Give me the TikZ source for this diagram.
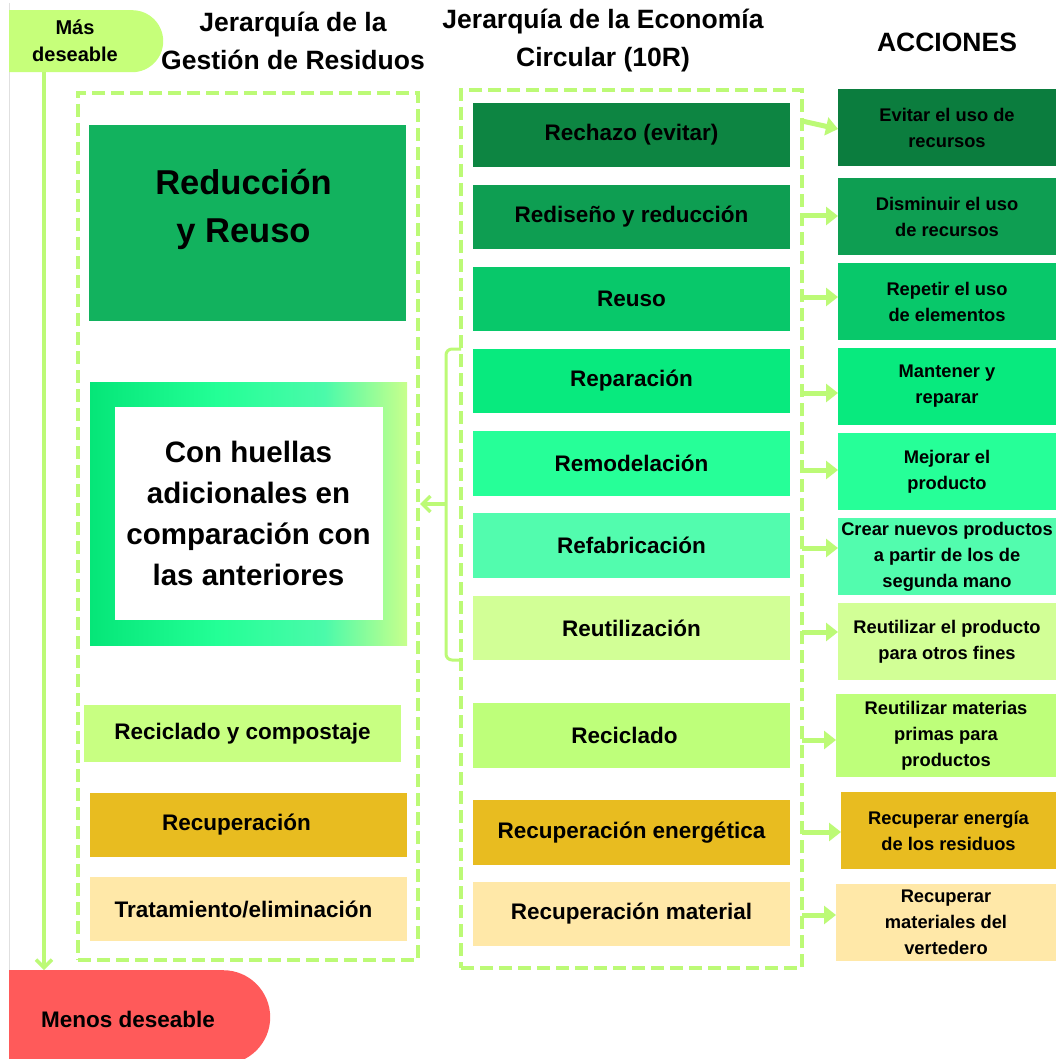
\documentclass[tikz,border=0pt]{standalone}
\usepackage{fontspec}
\setmainfont{Liberation Sans}
\usetikzlibrary{arrows.meta,shapes.misc}
\definecolor{lg}{RGB}{188,250,118}
\definecolor{cMas}{RGB}{198,255,122}
\definecolor{cMenos}{RGB}{255,90,90}
\definecolor{cRR}{RGB}{18,178,94}
\definecolor{cRyC}{RGB}{200,255,130}
\definecolor{cRE}{RGB}{232,188,32}
\definecolor{cRM}{RGB}{255,232,168}
\definecolor{cM1}{RGB}{13,133,66}
\definecolor{cM2}{RGB}{14,158,82}
\definecolor{cM3}{RGB}{8,200,106}
\definecolor{cM4}{RGB}{8,234,126}
\definecolor{cM5}{RGB}{38,255,152}
\definecolor{cM6}{RGB}{82,252,174}
\definecolor{cM7}{RGB}{210,255,150}
\definecolor{cM8}{RGB}{190,255,122}
\definecolor{cA1}{RGB}{11,125,62}
\definecolor{gA}{RGB}{5,230,120}
\definecolor{gB}{RGB}{35,255,150}
\definecolor{gC}{RGB}{75,250,170}
\definecolor{gD}{RGB}{200,255,140}
\pgfdeclarehorizontalshading{gframe}{100bp}{color(0bp)=(gA); color(25bp)=(gA); color(45bp)=(gB); color(62bp)=(gC); color(75bp)=(gD); color(100bp)=(gD)}
\begin{document}
\begin{tikzpicture}[x=1pt,y=-1pt,
  box/.style={inner sep=0pt, outer sep=0pt, anchor=north west, align=center, text=black, font=\bfseries\fontsize{22.5}{26}\selectfont},
  abox/.style={box, font=\bfseries\fontsize{18.3}{26}\selectfont},
  frame/.style={draw=lg, line width=3.5pt, dash pattern=on 13pt off 6pt, anchor=north west, inner sep=0pt, outer sep=0pt},
  tiparr/.style={draw=lg, line width=5pt, -{Triangle[length=12pt,width=18pt]}},
  openarr/.style={draw=lg, line width=3.5pt, -{Straight Barb[length=8pt,width=16pt]}},
  ttl/.style={align=center, inner sep=0pt, font=\bfseries\fontsize{26.5}{38}\selectfont}
]
\useasboundingbox (0,0) rectangle (1056,1059);
\fill[white] (0,0) rectangle (1056,1059);
\draw[black!12, line width=1pt] (9,3) -- (9,1059);

% titles
\node[ttl] (t1) at (293,41) {Jerarquía de la\\Gestión de Residuos};
\node[ttl] (t2) at (603,41) {Jerarquía de la Economía\\Circular (10R)};
\node[ttl] (t3) at (947,42) {ACCIONES};

% pills
\node[rounded rectangle, rounded rectangle west arc=none, fill=cMas, minimum width=154, minimum height=62, inner sep=0pt, anchor=north west] (mas) at (9,10) {};
\node[align=center, inner sep=0pt, font=\bfseries\fontsize{20}{27}\selectfont] (mastxt) at (75,41) {Más\\deseable};
\node[rounded rectangle, rounded rectangle west arc=none, fill=cMenos, minimum width=261, minimum height=94, inner sep=0pt, anchor=north west] (menos) at (9,970) {};
\node[inner sep=0pt, font=\bfseries\fontsize{22.5}{26}\selectfont] (menostxt) at (128,1019) {Menos deseable};
\coordinate (ax) at (44,0);
\draw[openarr] (mas.south -| ax) -- (menos.north -| ax);

% frames
\node[frame, minimum width=340, minimum height=867] (lframe) at (78,93) {};
\node[frame, minimum width=341, minimum height=878] (mframe) at (461,90) {};

% left column
\node[box, fill=cRR, minimum width=317, minimum height=196] (redu) at (89,125) {};
\node[inner sep=0pt, align=center, font=\bfseries\fontsize{34.5}{48}\selectfont] (redutxt) at ([xshift=-4pt,yshift=14pt]redu.center) {Reducción\\y Reuso};
\node[box, shading=gframe, minimum width=317, minimum height=263] (grad) at (90,382) {};
\node[fill=white, inner sep=0pt, minimum width=268, minimum height=213, align=center, font=\bfseries\fontsize{29.5}{41}\selectfont] (huellas) at (grad.center) {Con huellas\\adicionales en\\comparación con\\las anteriores};
\node[box, fill=cRyC, minimum width=317, minimum height=57] (recic) at (84,705) {Reciclado y compostaje};
\node[box, fill=cRE, minimum width=317, minimum height=64] (recup) at (90,793) {\hspace*{-24pt}Recuperación};
\node[box, fill=cRM, minimum width=317, minimum height=64] (trat) at (90,877) {\hspace*{-10pt}Tratamiento/eliminación};

% middle column
\node[box, fill=cM1, minimum width=317, minimum height=64] (m1) at (473,103) {Rechazo (evitar)};
\node[box, fill=cM2, minimum width=317, minimum height=64] (m2) at (473,185) {Rediseño y reducción};
\node[box, fill=cM3, minimum width=317, minimum height=64] (m3) at (473,267) {Reuso};
\node[box, fill=cM4, minimum width=317, minimum height=64] (m4) at (473,349) {Reparación};
\node[box, fill=cM5, minimum width=317, minimum height=65] (m5) at (473,431) {Remodelación};
\node[box, fill=cM6, minimum width=317, minimum height=65] (m6) at (473,513) {Refabricación};
\node[box, fill=cM7, minimum width=317, minimum height=64] (m7) at (473,596) {Reutilización};
\node[box, fill=cM8, minimum width=317, minimum height=65] (m8) at (473,703) {\hspace*{-14pt}Reciclado};
\node[box, fill=cRE, minimum width=317, minimum height=65] (m9) at (473,800) {Recuperación energética};
\node[box, fill=cRM, minimum width=317, minimum height=64] (m10) at (473,882) {Recuperación material};

% right column
\node[abox, fill=cA1, minimum width=218, minimum height=77] (a1) at (838,89) {Evitar el uso de\\recursos};
\node[abox, fill=cM2, minimum width=218, minimum height=77] (a2) at (838,178) {Disminuir el uso\\de recursos};
\node[abox, fill=cM3, minimum width=218, minimum height=77] (a3) at (838,263) {Repetir el uso\\de elementos};
\node[abox, fill=cM4, minimum width=218, minimum height=77] (a4) at (838,348) {Mantener y\\reparar};
\node[abox, fill=cM5, minimum width=218, minimum height=77] (a5) at (838,433) {Mejorar el\\producto};
\node[abox, fill=cM6, minimum width=218, minimum height=77] (a6) at (838,518) {Crear nuevos productos\\a partir de los de\\segunda mano};
\node[abox, fill=cM7, minimum width=218, minimum height=77] (a7) at (838,603) {Reutilizar el producto\\para otros fines};
\node[abox, fill=cM8, minimum width=220, minimum height=83] (a8) at (836,694) {Reutilizar materias\\primas para\\productos};
\node[abox, fill=cRE, minimum width=215, minimum height=77] (a9) at (841,792) {Recuperar energía\\de los residuos};
\node[abox, fill=cRM, minimum width=220, minimum height=77] (a10) at (836,884) {Recuperar\\materiales del\\vertedero};

% arrows to actions
\coordinate (y1) at (0,121);
\coordinate (y1b) at (0,129);
\coordinate (y2) at (0,216);
\coordinate (y3) at (0,297);
\coordinate (y4) at (0,393);
\coordinate (y5) at (0,470);
\coordinate (y6) at (0,548);
\coordinate (y7) at (0,632);
\coordinate (y8) at (0,740);
\coordinate (y9) at (0,832);
\coordinate (y10) at (0,915);
\draw[tiparr] (mframe.east |- y1) -- (a1.west |- y1b);
\draw[tiparr] (mframe.east |- y2) -- (a2.west |- y2);
\draw[tiparr] (mframe.east |- y3) -- (a3.west |- y3);
\draw[tiparr] (mframe.east |- y4) -- (a4.west |- y4);
\draw[tiparr] (mframe.east |- y5) -- (a5.west |- y5);
\draw[tiparr] (mframe.east |- y6) -- (a6.west |- y6);
\draw[tiparr] (mframe.east |- y7) -- (a7.west |- y7);
\draw[tiparr] (mframe.east |- y8) -- (a8.west |- y8);
\draw[tiparr] (mframe.east |- y9) -- (a9.west |- y9);
\draw[tiparr] (mframe.east |- y10) -- (a10.west |- y10);

% bracket
\coordinate (bx) at (446,0);
\coordinate (by) at (0,504);
\draw[lg, line width=3pt, rounded corners=6pt] (mframe.west |- m4.north) -- (bx |- m4.north) -- (bx |- m7.south) -- (mframe.west |- m7.south);
\draw[openarr] (bx |- by) -- ([xshift=2pt]lframe.east |- by);
\end{tikzpicture}
\end{document}
